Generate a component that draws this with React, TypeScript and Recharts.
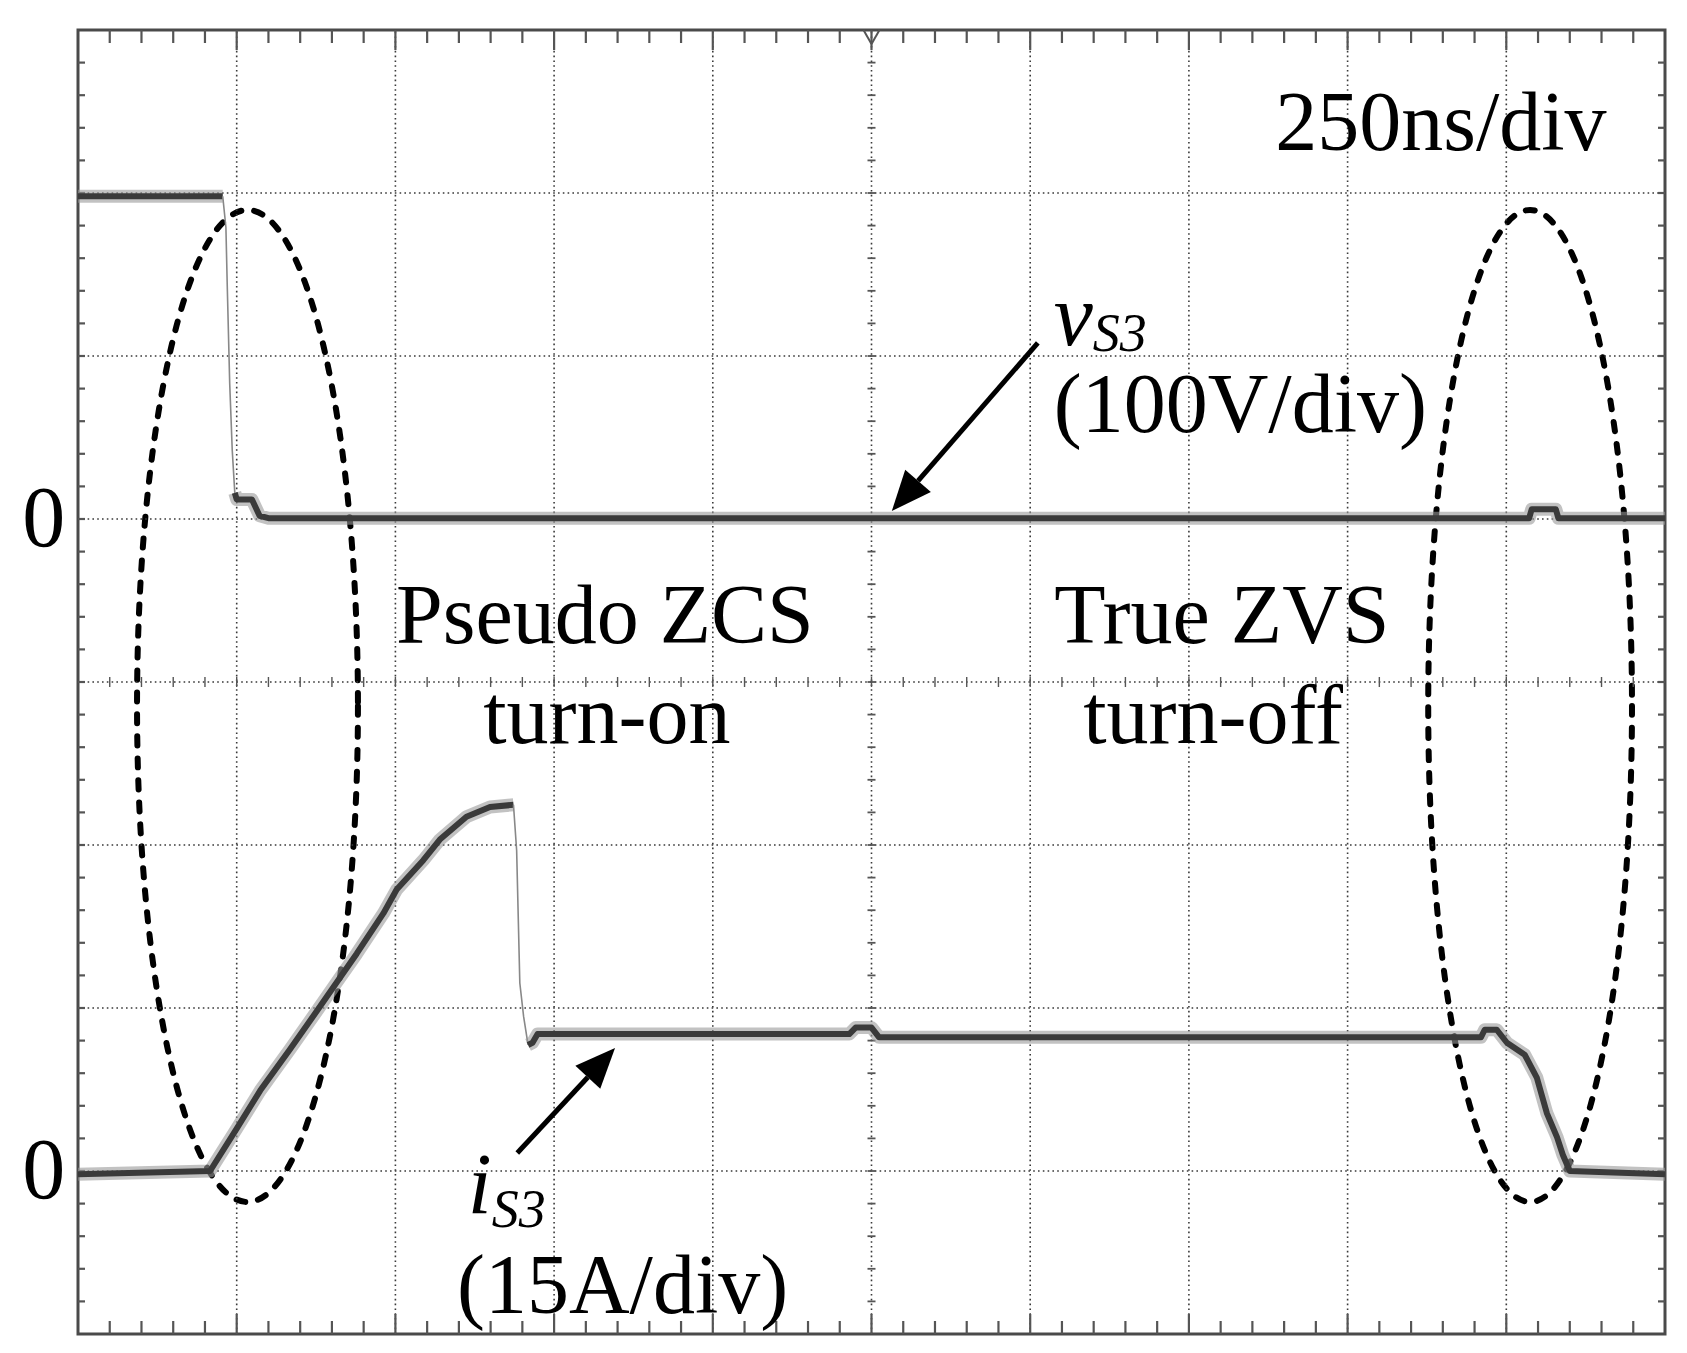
import React from "react";
import { LineChart, Line, XAxis, YAxis, ReferenceLine, ReferenceArea, ReferenceDot } from "recharts";

// time base: 250 ns/div, 10 divisions; 8 vertical divisions
const TIME_GRID = [250, 500, 750, 1000, 1250, 1500, 1750, 2000, 2250];
const LEVEL_GRID = [1, 2, 3, 4, 5, 6, 7];

// v_S3 in volts (100 V/div, zero at 5th division from bottom)
const vHighT = [0, 228];
const vHighV = [198, 198];
const vEdgeT = [228, 233, 235, 239, 243, 247];
const vEdgeV = [198, 179, 145, 83, 42, 16];
const vLowT = [247, 250, 274, 286, 300, 2286, 2290, 2328, 2332, 2500];
const vLowV = [16, 12, 12, 2, 0.5, 0.5, 6, 6, 0.5, 0.5];

// i_S3 in amps (15 A/div, zero at 1st division from bottom)
const iRiseT = [0, 208, 250, 287, 334, 376, 408, 439, 481, 502, 544, 570, 612, 649, 686];
const iRiseA = [-0.3, 0, 3.9, 7.4, 11.2, 14.7, 17.4, 20.0, 23.7, 25.9, 28.6, 30.5, 32.6, 33.5, 33.7];
const iEdgeT = [686, 691, 696, 702, 709];
const iEdgeA = [33.7, 29.5, 17.3, 14.2, 11.6];
const iFlatT = [709, 716, 724, 1215, 1225, 1250, 1262, 2210, 2216, 2235, 2251, 2279, 2298, 2314, 2330, 2339, 2350, 2500];
const iFlatA = [11.6, 11.8, 12.6, 12.6, 13.2, 13.2, 12.3, 12.3, 13.0, 13.0, 11.8, 10.7, 8.6, 5.3, 3.1, 1.5, 0.0, -0.3];

const SERIF = "'Liberation Serif', 'Times New Roman', serif";
const PX_T = 250 / 158.7; // ns per pixel
const PX_D = 1 / 163; // div per pixel

const zip = (ts: number[], ys: number[]) => ts.map((t, k) => ({ t, y: ys[k] }));

function trace(id: string, axis: string, data: { t: number; y: number }[], thin = false) {
  if (thin) {
    return [
      <Line key={id} data={data} dataKey="y" yAxisId={axis} type="linear" stroke="#888" strokeWidth={1.6}
        dot={false} activeDot={false} isAnimationActive={false} />,
    ];
  }
  return [
    <Line key={id + "-halo"} data={data} dataKey="y" yAxisId={axis} type="linear" stroke="#999" strokeWidth={13}
      strokeOpacity={0.6} strokeLinejoin="round" dot={false} activeDot={false} isAnimationActive={false} />,
    <Line key={id + "-core"} data={data} dataKey="y" yAxisId={axis} type="linear" stroke="#3a3a3a" strokeWidth={6}
      strokeLinejoin="round" dot={false} activeDot={false} isAnimationActive={false} />,
  ];
}

const arrowShape = (p: any) => {
  const { x1, y1, x2, y2 } = p;
  const a = Math.atan2(y2 - y1, x2 - x1);
  const L = 40;
  const W = 17;
  const bx = x2 - L * Math.cos(a);
  const by = y2 - L * Math.sin(a);
  const nx = -Math.sin(a) * W;
  const ny = Math.cos(a) * W;
  return (
    <g>
      <line x1={x1} y1={y1} x2={bx} y2={by} stroke="#000" strokeWidth={5} />
      <polygon points={`${x2},${y2} ${bx + nx},${by + ny} ${bx - nx},${by - ny}`} fill="#000" />
    </g>
  );
};

const ellipseShape = (p: any) => (
  <ellipse cx={p.x + p.width / 2} cy={p.y + p.height / 2} rx={p.width / 2} ry={p.height / 2}
    fill="none" stroke="#000" strokeWidth={6} strokeDasharray="9 13" strokeLinecap="round" />
);

const textShape = (content: React.ReactNode, anchor: "start" | "middle" | "end", size = 84, italic = false) => (p: any) => (
  <text x={p.cx} y={p.cy} textAnchor={anchor} fontSize={size} fontFamily={SERIF}
    fontStyle={italic ? "italic" : "normal"} fill="#000">{content}</text>
);

function label(key: string, t: number, d: number, shape: any) {
  return <ReferenceDot key={key} x={t} y={d} yAxisId="d" r={1} ifOverflow="visible" shape={shape} />;
}

function seg(key: string, a: [number, number], b: [number, number], stroke: string, width: number, dash?: string) {
  return (
    <ReferenceLine key={key} yAxisId="d" ifOverflow="visible" stroke={stroke} strokeWidth={width}
      strokeDasharray={dash} segment={[{ x: a[0], y: a[1] }, { x: b[0], y: b[1] }]} />
  );
}

export default function App() {
  const ticks: React.ReactElement[] = [];
  // frame ticks every 1/5 division
  for (let k = 1; k < 50; k++) {
    const t = k * 50;
    const major = k % 5 === 0;
    const len = (major ? 20 : 13) * PX_D;
    ticks.push(seg(`tt${k}`, [t, 8], [t, 8 - len], "#555", 2.2));
    ticks.push(seg(`tb${k}`, [t, 0], [t, len], "#555", 2.2));
    ticks.push(seg(`tc${k}`, [t, 4 - 5 * PX_D], [t, 4 + 5 * PX_D], "#555", 1.4));
  }
  for (let k = 1; k < 40; k++) {
    const d = k * 0.2;
    const len = 7 * PX_T;
    ticks.push(seg(`tl${k}`, [0, d], [len, d], "#555", 2.2));
    ticks.push(seg(`tr${k}`, [2500, d], [2500 - len, d], "#555", 2.2));
    ticks.push(seg(`tm${k}`, [1250 - 4 * PX_T, d], [1250 + 4 * PX_T, d], "#555", 1.8));
  }

  return (
    <div style={{ position: "absolute", left: 0, top: 0, width: 1687, height: 1353, background: "#fff" }}>
      <LineChart width={1687} height={1353} margin={{ top: 30, right: 22, bottom: 19, left: 78 }}>
        <XAxis type="number" dataKey="t" domain={[0, 2500]} allowDataOverflow hide />
        <YAxis yAxisId="v" type="number" domain={[-500, 300]} allowDataOverflow hide />
        <YAxis yAxisId="i" type="number" domain={[-15, 105]} allowDataOverflow hide />
        <YAxis yAxisId="d" type="number" domain={[0, 8]} allowDataOverflow hide />

        {TIME_GRID.map((t) => (
          <ReferenceLine key={`gx${t}`} x={t} yAxisId="d" stroke="#3a3a3a" strokeWidth={1.6} strokeDasharray="1.6 3.2" />
        ))}
        {LEVEL_GRID.map((d) => (
          <ReferenceLine key={`gy${d}`} y={d} yAxisId="d" stroke="#3a3a3a" strokeWidth={1.6} strokeDasharray="1.6 3.2" />
        ))}
        {ticks}
        {/* trigger marker */}
        {seg("trg1", [1250 - 8 * PX_T, 8], [1250, 8 - 14 * PX_D], "#555", 2)}
        {seg("trg2", [1250 + 8 * PX_T, 8], [1250, 8 - 14 * PX_D], "#555", 2)}
        <ReferenceArea yAxisId="d" x1={0} x2={2500} y1={0} y2={8} ifOverflow="visible"
          fill="none" stroke="#4a4a4a" strokeWidth={3} />

        {trace("vh", "v", zip(vHighT, vHighV))}
        {trace("ve", "v", zip(vEdgeT, vEdgeV), true)}
        {trace("vl", "v", zip(vLowT, vLowV))}
        {trace("ir", "i", zip(iRiseT, iRiseA))}
        {trace("ie", "i", zip(iEdgeT, iEdgeA), true)}
        {trace("if", "i", zip(iFlatT, iFlatA))}

        <ReferenceArea yAxisId="d" x1={93} x2={441} y1={0.81} y2={6.896} ifOverflow="visible" shape={ellipseShape} />
        <ReferenceArea yAxisId="d" x1={2127} x2={2448} y1={0.81} y2={6.896} ifOverflow="visible" shape={ellipseShape} />

        <ReferenceLine yAxisId="d" ifOverflow="visible" shape={arrowShape}
          segment={[{ x: 1512, y: 6.08 }, { x: 1282, y: 5.049 }]} />
        <ReferenceLine yAxisId="d" ifOverflow="visible" shape={arrowShape}
          segment={[{ x: 692, y: 1.11 }, { x: 846, y: 1.755 }]} />

        {label("l250", 1886, 7.264, textShape("250ns/div", "start"))}
        {label("l0v", -88, 4.834, textShape("0", "start", 86))}
        {label("l0i", -88, 0.834, textShape("0", "start", 86))}
        {label("lv", 1537, 6.067, textShape(
          <>
            <tspan fontSize={88}>v</tspan>
            <tspan fontSize={54} dy={6}>S3</tspan>
          </>, "start", 88, true))}
        {label("lvd", 1537, 5.534, textShape("(100V/div)", "start"))}
        {label("lz1", 830, 4.239, textShape("Pseudo ZCS", "middle"))}
        {label("lz2", 833, 3.626, textShape("turn-on", "middle"))}
        {label("lz3", 1802, 4.239, textShape("True ZVS", "middle"))}
        {label("lz4", 1788, 3.626, textShape("turn-off", "middle"))}
        {label("li", 614, 0.742, textShape(
          <>
            <tspan fontSize={86}>i</tspan>
            <tspan fontSize={54} dy={14}>S3</tspan>
          </>, "start", 86, true))}
        {label("lid", 597, 0.129, textShape("(15A/div)", "start"))}
      </LineChart>
    </div>
  );
}
